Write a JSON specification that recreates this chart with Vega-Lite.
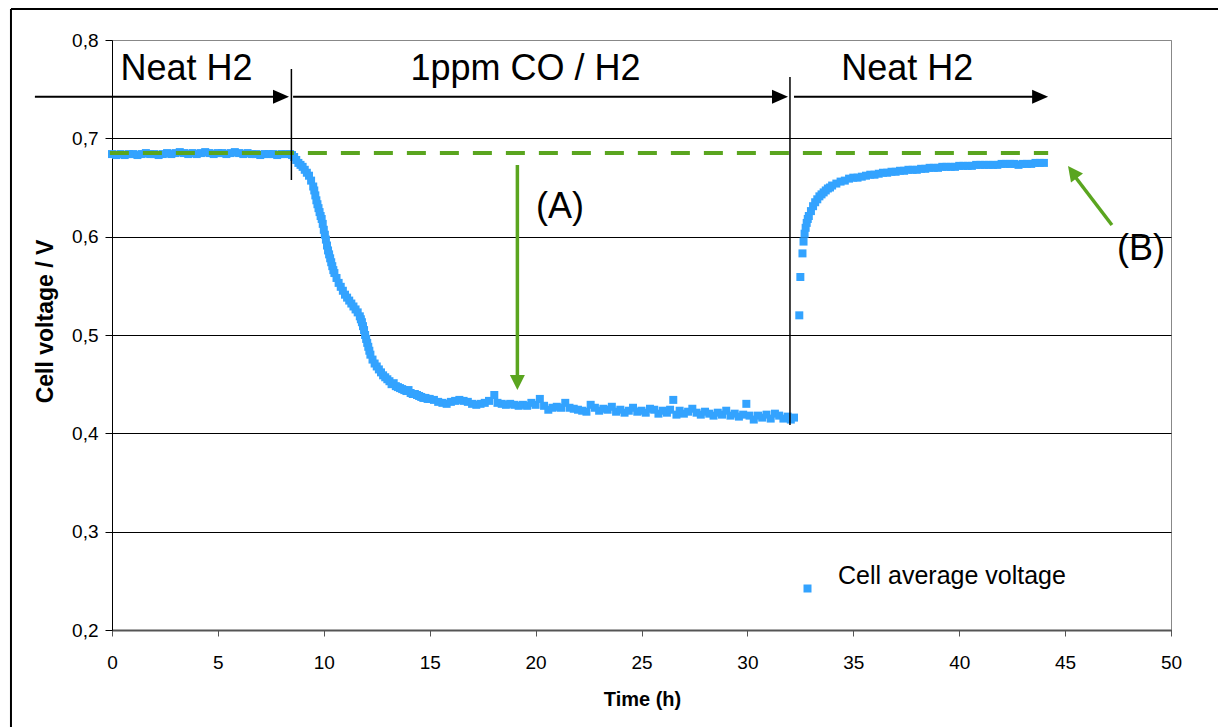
{
  "$schema": "https://vega.github.io/schema/vega-lite/v6.json",
  "autosize": "none",
  "width": 1059,
  "height": 590,
  "padding": {"left": 112, "top": 40, "right": 47, "bottom": 97},
  "background": "#ffffff",
  "config": {
    "font": "Liberation Sans",
    "view": {"stroke": "#888888", "strokeWidth": 1}
  },
  "encoding": {
    "x": {
      "field": "t", "type": "quantitative",
      "scale": {"domain": [0, 50], "nice": false, "zero": false},
      "axis": {
        "values": [0, 5, 10, 15, 20, 25, 30, 35, 40, 45, 50],
        "labelFontSize": 19, "labelColor": "#000000", "labelPadding": 17, "labelFlush": false,
        "tickColor": "#555555", "tickSize": 6, "tickWidth": 1,
        "domainColor": "#555555", "domainWidth": 2, "grid": false,
        "title": "Time (h)", "titleFontSize": 20, "titleFontWeight": "bold", "titleColor": "#000000",
        "titleX": 530, "titleY": 69, "titleBaseline": "middle", "titleAlign": "center"
      }
    },
    "y": {
      "field": "v", "type": "quantitative",
      "scale": {"domain": [0.2, 0.8], "nice": false, "zero": false},
      "axis": {
        "values": [0.2, 0.3, 0.4, 0.5, 0.6, 0.7, 0.8],
        "labelExpr": "replace(format(datum.value, '.1f'), '.', ',')",
        "labelFontSize": 19, "labelColor": "#000000", "labelPadding": 7, "labelFlush": false,
        "tickColor": "#000000", "tickSize": 7, "tickWidth": 1,
        "domainColor": "#000000", "domainWidth": 1,
        "grid": true, "gridWidth": 1,
        "gridColor": {"condition": {"test": "datum.value > 0.79", "value": "#888888"}, "value": "#000000"},
        "title": "Cell voltage / V", "titleFontSize": 23, "titleFontWeight": "bold", "titleColor": "#000000",
        "titleAngle": -90, "titleX": -67, "titleY": 281, "titleAlign": "center", "titleBaseline": "middle"
      }
    }
  },
  "layer": [
    {
      "data": {"values": [
        {"t": -4.77, "t2": 60, "v": 0.8315, "v2": 0.8315},
        {"t": -4.77, "t2": -4.77, "v": 0.8315, "v2": 0.0}
      ]},
      "mark": {"type": "rule", "color": "#000000", "strokeWidth": 2, "clip": false},
      "encoding": {"x2": {"field": "t2"}, "y2": {"field": "v2"}}
    },
    {
      "data": {"values": [
        {"t": 0.0, "v": 0.684}, {"t": 0.2, "v": 0.683}, {"t": 0.4, "v": 0.684}, {"t": 0.6, "v": 0.683}, {"t": 0.8, "v": 0.684},
        {"t": 1.0, "v": 0.684}, {"t": 1.2, "v": 0.683}, {"t": 1.4, "v": 0.684}, {"t": 1.6, "v": 0.685}, {"t": 1.8, "v": 0.684},
        {"t": 2.0, "v": 0.684}, {"t": 2.2, "v": 0.683}, {"t": 2.4, "v": 0.684}, {"t": 2.6, "v": 0.685}, {"t": 2.8, "v": 0.684},
        {"t": 3.0, "v": 0.685}, {"t": 3.2, "v": 0.686}, {"t": 3.4, "v": 0.685}, {"t": 3.6, "v": 0.684}, {"t": 3.8, "v": 0.685},
        {"t": 4.0, "v": 0.684}, {"t": 4.2, "v": 0.685}, {"t": 4.4, "v": 0.686}, {"t": 4.6, "v": 0.685}, {"t": 4.8, "v": 0.684},
        {"t": 5.0, "v": 0.685}, {"t": 5.2, "v": 0.685}, {"t": 5.4, "v": 0.684}, {"t": 5.6, "v": 0.685}, {"t": 5.8, "v": 0.686},
        {"t": 6.0, "v": 0.685}, {"t": 6.2, "v": 0.684}, {"t": 6.4, "v": 0.685}, {"t": 6.6, "v": 0.684}, {"t": 6.8, "v": 0.684},
        {"t": 7.0, "v": 0.683}, {"t": 7.2, "v": 0.684}, {"t": 7.4, "v": 0.684}, {"t": 7.6, "v": 0.684}, {"t": 7.8, "v": 0.683},
        {"t": 8.0, "v": 0.684}, {"t": 8.2, "v": 0.684}, {"t": 8.4, "v": 0.684},
        {"t": 8.5, "v": 0.683}, {"t": 8.6, "v": 0.681}, {"t": 8.7, "v": 0.678}, {"t": 8.8, "v": 0.675}, {"t": 8.9, "v": 0.673},
        {"t": 9.0, "v": 0.671}, {"t": 9.1, "v": 0.668}, {"t": 9.2, "v": 0.665}, {"t": 9.3, "v": 0.662}, {"t": 9.4, "v": 0.657},
        {"t": 9.5, "v": 0.651}, {"t": 9.55, "v": 0.647}, {"t": 9.6, "v": 0.642}, {"t": 9.65, "v": 0.637}, {"t": 9.7, "v": 0.633},
        {"t": 9.75, "v": 0.629}, {"t": 9.8, "v": 0.625}, {"t": 9.85, "v": 0.621}, {"t": 9.9, "v": 0.618}, {"t": 9.95, "v": 0.613},
        {"t": 10.0, "v": 0.607}, {"t": 10.05, "v": 0.602}, {"t": 10.1, "v": 0.597}, {"t": 10.15, "v": 0.591}, {"t": 10.2, "v": 0.586},
        {"t": 10.25, "v": 0.582}, {"t": 10.3, "v": 0.578}, {"t": 10.35, "v": 0.574}, {"t": 10.4, "v": 0.570}, {"t": 10.45, "v": 0.566},
        {"t": 10.5, "v": 0.563}, {"t": 10.6, "v": 0.558}, {"t": 10.7, "v": 0.553}, {"t": 10.8, "v": 0.549}, {"t": 10.9, "v": 0.545},
        {"t": 11.0, "v": 0.541}, {"t": 11.1, "v": 0.538}, {"t": 11.2, "v": 0.535}, {"t": 11.3, "v": 0.532}, {"t": 11.4, "v": 0.529},
        {"t": 11.5, "v": 0.526}, {"t": 11.6, "v": 0.523}, {"t": 11.7, "v": 0.519}, {"t": 11.75, "v": 0.516}, {"t": 11.8, "v": 0.513},
        {"t": 11.85, "v": 0.509}, {"t": 11.9, "v": 0.505}, {"t": 11.95, "v": 0.500}, {"t": 12.0, "v": 0.496}, {"t": 12.05, "v": 0.492},
        {"t": 12.1, "v": 0.488}, {"t": 12.15, "v": 0.484}, {"t": 12.2, "v": 0.480}, {"t": 12.3, "v": 0.475}, {"t": 12.4, "v": 0.471},
        {"t": 12.5, "v": 0.468}, {"t": 12.6, "v": 0.465}, {"t": 12.7, "v": 0.462}, {"t": 12.8, "v": 0.459}, {"t": 12.9, "v": 0.457},
        {"t": 13.0, "v": 0.455}, {"t": 13.1, "v": 0.453}, {"t": 13.2, "v": 0.450}, {"t": 13.3, "v": 0.451}, {"t": 13.4, "v": 0.448},
        {"t": 13.5, "v": 0.447}, {"t": 13.6, "v": 0.446}, {"t": 13.7, "v": 0.445}, {"t": 13.8, "v": 0.444}, {"t": 13.9, "v": 0.443},
        {"t": 14.0, "v": 0.444}, {"t": 14.1, "v": 0.441}, {"t": 14.2, "v": 0.440}, {"t": 14.3, "v": 0.440}, {"t": 14.4, "v": 0.439},
        {"t": 14.5, "v": 0.438}, {"t": 14.6, "v": 0.437}, {"t": 14.7, "v": 0.436}, {"t": 14.8, "v": 0.436}, {"t": 14.9, "v": 0.435},
        {"t": 15.0, "v": 0.435}, {"t": 15.2, "v": 0.434}, {"t": 15.4, "v": 0.432}, {"t": 15.6, "v": 0.431}, {"t": 15.8, "v": 0.430},
        {"t": 16.0, "v": 0.432}, {"t": 16.2, "v": 0.433}, {"t": 16.4, "v": 0.434}, {"t": 16.6, "v": 0.433}, {"t": 16.8, "v": 0.432},
        {"t": 17.0, "v": 0.430}, {"t": 17.2, "v": 0.429}, {"t": 17.4, "v": 0.430}, {"t": 17.6, "v": 0.431}, {"t": 17.8, "v": 0.433},
        {"t": 18.05, "v": 0.439}, {"t": 18.2, "v": 0.431}, {"t": 18.4, "v": 0.430}, {"t": 18.6, "v": 0.429}, {"t": 18.8, "v": 0.430},
        {"t": 19.0, "v": 0.429}, {"t": 19.2, "v": 0.428}, {"t": 19.4, "v": 0.429}, {"t": 19.6, "v": 0.428}, {"t": 19.8, "v": 0.431},
        {"t": 20.0, "v": 0.429}, {"t": 20.2, "v": 0.435}, {"t": 20.4, "v": 0.428}, {"t": 20.6, "v": 0.424}, {"t": 20.8, "v": 0.426},
        {"t": 21.0, "v": 0.427}, {"t": 21.2, "v": 0.426}, {"t": 21.4, "v": 0.431}, {"t": 21.6, "v": 0.426}, {"t": 21.8, "v": 0.425},
        {"t": 22.0, "v": 0.424}, {"t": 22.2, "v": 0.423}, {"t": 22.4, "v": 0.422}, {"t": 22.6, "v": 0.429}, {"t": 22.8, "v": 0.426},
        {"t": 23.0, "v": 0.423}, {"t": 23.2, "v": 0.425}, {"t": 23.4, "v": 0.424}, {"t": 23.6, "v": 0.427}, {"t": 23.8, "v": 0.422},
        {"t": 24.0, "v": 0.424}, {"t": 24.2, "v": 0.421}, {"t": 24.4, "v": 0.423}, {"t": 24.6, "v": 0.426}, {"t": 24.8, "v": 0.422},
        {"t": 25.0, "v": 0.423}, {"t": 25.2, "v": 0.421}, {"t": 25.4, "v": 0.425}, {"t": 25.6, "v": 0.424}, {"t": 25.8, "v": 0.420},
        {"t": 26.0, "v": 0.423}, {"t": 26.2, "v": 0.421}, {"t": 26.35, "v": 0.424}, {"t": 26.5, "v": 0.434}, {"t": 26.65, "v": 0.419},
        {"t": 26.8, "v": 0.423}, {"t": 27.0, "v": 0.420}, {"t": 27.2, "v": 0.422}, {"t": 27.4, "v": 0.425}, {"t": 27.6, "v": 0.421},
        {"t": 27.8, "v": 0.419}, {"t": 28.0, "v": 0.422}, {"t": 28.2, "v": 0.420}, {"t": 28.4, "v": 0.418}, {"t": 28.6, "v": 0.421},
        {"t": 28.8, "v": 0.419}, {"t": 29.0, "v": 0.423}, {"t": 29.2, "v": 0.418}, {"t": 29.4, "v": 0.420}, {"t": 29.6, "v": 0.417},
        {"t": 29.8, "v": 0.419}, {"t": 29.95, "v": 0.430}, {"t": 30.1, "v": 0.418}, {"t": 30.3, "v": 0.414}, {"t": 30.5, "v": 0.418},
        {"t": 30.7, "v": 0.416}, {"t": 30.9, "v": 0.419}, {"t": 31.1, "v": 0.415}, {"t": 31.3, "v": 0.420}, {"t": 31.5, "v": 0.418},
        {"t": 31.7, "v": 0.415}, {"t": 31.9, "v": 0.417}, {"t": 32.05, "v": 0.414}, {"t": 32.2, "v": 0.416},
        {"t": 32.45, "v": 0.520}, {"t": 32.5, "v": 0.559}, {"t": 32.6, "v": 0.583}, {"t": 32.65, "v": 0.595}, {"t": 32.7, "v": 0.603},
        {"t": 32.75, "v": 0.609}, {"t": 32.8, "v": 0.614}, {"t": 32.85, "v": 0.618}, {"t": 32.9, "v": 0.621}, {"t": 33.0, "v": 0.626},
        {"t": 33.1, "v": 0.631}, {"t": 33.2, "v": 0.635}, {"t": 33.3, "v": 0.638}, {"t": 33.4, "v": 0.641}, {"t": 33.5, "v": 0.643},
        {"t": 33.6, "v": 0.645}, {"t": 33.7, "v": 0.647}, {"t": 33.8, "v": 0.649}, {"t": 33.9, "v": 0.650}, {"t": 34.0, "v": 0.652},
        {"t": 34.2, "v": 0.654}, {"t": 34.4, "v": 0.656}, {"t": 34.6, "v": 0.657}, {"t": 34.8, "v": 0.659}, {"t": 35.0, "v": 0.660},
        {"t": 35.2, "v": 0.660}, {"t": 35.4, "v": 0.661}, {"t": 35.6, "v": 0.662}, {"t": 35.8, "v": 0.663}, {"t": 36.0, "v": 0.663},
        {"t": 36.2, "v": 0.664}, {"t": 36.4, "v": 0.665}, {"t": 36.6, "v": 0.665}, {"t": 36.8, "v": 0.666}, {"t": 37.0, "v": 0.666},
        {"t": 37.2, "v": 0.667}, {"t": 37.4, "v": 0.667}, {"t": 37.6, "v": 0.668}, {"t": 37.8, "v": 0.668}, {"t": 38.0, "v": 0.668},
        {"t": 38.2, "v": 0.669}, {"t": 38.4, "v": 0.669}, {"t": 38.6, "v": 0.670}, {"t": 38.8, "v": 0.670}, {"t": 39.0, "v": 0.670},
        {"t": 39.2, "v": 0.671}, {"t": 39.4, "v": 0.671}, {"t": 39.6, "v": 0.671}, {"t": 39.8, "v": 0.671}, {"t": 40.0, "v": 0.672},
        {"t": 40.2, "v": 0.672}, {"t": 40.4, "v": 0.672}, {"t": 40.6, "v": 0.672}, {"t": 40.8, "v": 0.673}, {"t": 41.0, "v": 0.673},
        {"t": 41.2, "v": 0.673}, {"t": 41.4, "v": 0.673}, {"t": 41.6, "v": 0.673}, {"t": 41.8, "v": 0.673}, {"t": 42.0, "v": 0.674},
        {"t": 42.2, "v": 0.674}, {"t": 42.4, "v": 0.674}, {"t": 42.6, "v": 0.674}, {"t": 42.8, "v": 0.673}, {"t": 43.0, "v": 0.674},
        {"t": 43.2, "v": 0.674}, {"t": 43.4, "v": 0.674}, {"t": 43.6, "v": 0.675}, {"t": 43.8, "v": 0.675}, {"t": 44.0, "v": 0.675}
      ]},
      "mark": {"type": "point", "shape": "square", "filled": true, "size": 64, "opacity": 1, "strokeWidth": 0},
      "encoding": {
        "color": {
          "datum": "Cell average voltage", "type": "nominal",
          "scale": {"range": ["#33A3FF"]},
          "legend": {
            "orient": "none", "legendX": 683, "legendY": 536, "title": null, "padding": 0,
            "symbolType": "square", "symbolSize": 64, "symbolStrokeWidth": 0,
            "labelFontSize": 25, "labelOffset": 18, "labelLimit": 0, "labelColor": "#000000", "labelBaseline": "bottom"
          }
        }
      }
    },
    {
      "data": {"values": [{"t": -0.1, "t2": 44.2, "v": 0.685}]},
      "mark": {"type": "rule", "color": "#5AA51F", "strokeWidth": 4, "strokeDash": [19, 14], "clip": false},
      "encoding": {"x2": {"field": "t2"}}
    },
    {
      "data": {"values": [
        {"t": 8.47, "v": 0.7705, "v2": 0.6576},
        {"t": 32.01, "v": 0.7624, "v2": 0.4085}
      ]},
      "mark": {"type": "rule", "color": "#000000", "strokeWidth": 1.5},
      "encoding": {"y2": {"field": "v2"}}
    },
    {
      "data": {"values": [
        {"t": -3.64, "t2": 8.0, "v": 0.7423},
        {"t": 8.55, "t2": 31.6, "v": 0.7423},
        {"t": 32.2, "t2": 43.9, "v": 0.7423}
      ]},
      "mark": {"type": "rule", "color": "#000000", "strokeWidth": 2, "clip": false},
      "encoding": {"x2": {"field": "t2"}}
    },
    {
      "data": {"values": [
        {"t": 7.98, "v": 0.7423},
        {"t": 31.54, "v": 0.7423},
        {"t": 43.82, "v": 0.7423}
      ]},
      "mark": {"type": "point", "shape": "M-1,-0.875L1,0L-1,0.875Z", "filled": true, "size": 256, "color": "#000000", "opacity": 1, "strokeWidth": 0}
    },
    {
      "data": {"values": [
        {"t": 19.14, "t2": 19.14, "v": 0.6729, "v2": 0.455},
        {"t": 47.21, "t2": 45.4, "v": 0.6119, "v2": 0.663}
      ]},
      "mark": {"type": "rule", "color": "#5AA51F", "strokeWidth": 3.5, "clip": false},
      "encoding": {"x2": {"field": "t2"}, "y2": {"field": "v2"}}
    },
    {
      "data": {"values": [{"t": 19.14, "v": 0.4517}]},
      "mark": {"type": "point", "shape": "M-1,-1L1,-1L0,1Z", "filled": true, "size": 225, "color": "#5AA51F", "opacity": 1, "strokeWidth": 0}
    },
    {
      "data": {"values": [{"t": 45.35, "v": 0.6658}]},
      "mark": {"type": "point", "shape": "M-1,-1L1,-1L0,1Z", "filled": true, "size": 225, "angle": 143.3, "color": "#5AA51F", "opacity": 1, "strokeWidth": 0, "clip": false}
    },
    {
      "data": {"values": [
        {"t": 3.52, "v": 0.7598, "label": "Neat H2"},
        {"t": 19.52, "v": 0.7598, "label": "1ppm CO / H2"},
        {"t": 37.55, "v": 0.7598, "label": "Neat H2"},
        {"t": 21.15, "v": 0.619, "label": "(A)"},
        {"t": 48.58, "v": 0.5763, "label": "(B)"}
      ]},
      "mark": {"type": "text", "fontSize": 36, "font": "Liberation Sans", "color": "#000000", "align": "center", "baseline": "alphabetic", "clip": false},
      "encoding": {"text": {"field": "label", "type": "nominal"}}
    }
  ]
}
